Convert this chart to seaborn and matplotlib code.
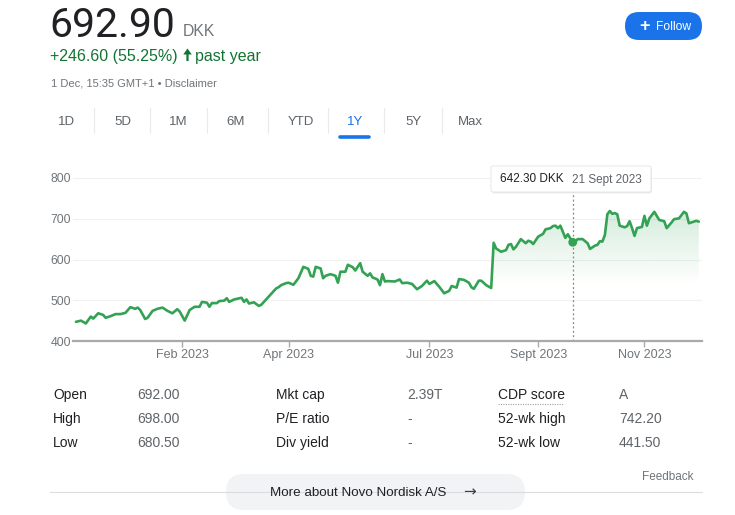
import numpy as np
import pandas as pd
import seaborn as sns
import matplotlib.pyplot as plt
from matplotlib.patches import FancyBboxPatch, FancyArrow
from matplotlib.colors import to_rgb

# closing prices (DKK), trading days
dates = [
    '2022-12-01', '2022-12-05', '2022-12-07', '2022-12-09', '2022-12-12', '2022-12-14',
    '2022-12-16', '2022-12-19', '2022-12-21', '2022-12-23', '2022-12-28', '2022-12-30',
    '2023-01-03', '2023-01-05', '2023-01-06', '2023-01-09', '2023-01-11', '2023-01-12',
    '2023-01-16', '2023-01-18', '2023-01-20', '2023-01-24', '2023-01-26', '2023-01-30',
    '2023-01-31', '2023-02-02', '2023-02-06', '2023-02-08', '2023-02-10', '2023-02-13',
    '2023-02-15', '2023-02-16', '2023-02-17', '2023-02-21', '2023-02-22', '2023-02-24',
    '2023-02-27', '2023-02-28', '2023-03-02', '2023-03-07', '2023-03-08', '2023-03-09',
    '2023-03-10', '2023-03-14', '2023-03-16', '2023-03-17', '2023-03-22', '2023-03-27',
    '2023-03-28', '2023-03-29', '2023-03-31', '2023-04-03', '2023-04-05', '2023-04-12',
    '2023-04-14', '2023-04-18', '2023-04-19', '2023-04-20', '2023-04-21', '2023-04-25',
    '2023-04-26', '2023-04-27', '2023-05-01', '2023-05-03', '2023-05-04', '2023-05-08',
    '2023-05-10', '2023-05-11', '2023-05-15', '2023-05-16', '2023-05-22', '2023-05-23',
    '2023-05-25', '2023-05-26', '2023-05-30', '2023-06-01', '2023-06-02', '2023-06-06',
    '2023-06-07', '2023-06-08', '2023-06-13', '2023-06-15', '2023-06-16', '2023-06-20',
    '2023-06-22', '2023-06-26', '2023-06-28', '2023-06-30', '2023-07-03', '2023-07-05',
    '2023-07-07', '2023-07-11', '2023-07-13', '2023-07-14', '2023-07-18', '2023-07-19',
    '2023-07-21', '2023-07-25', '2023-07-26', '2023-07-27', '2023-07-31', '2023-08-01',
    '2023-08-03', '2023-08-07', '2023-08-08', '2023-08-09', '2023-08-11', '2023-08-15',
    '2023-08-16', '2023-08-17', '2023-08-18', '2023-08-21', '2023-08-23', '2023-08-25',
    '2023-08-28', '2023-08-29', '2023-08-30', '2023-09-01', '2023-09-05', '2023-09-06',
    '2023-09-08', '2023-09-11', '2023-09-12', '2023-09-13', '2023-09-14', '2023-09-18',
    '2023-09-19', '2023-09-21', '2023-09-22', '2023-09-25', '2023-09-27', '2023-09-29',
    '2023-10-02', '2023-10-04', '2023-10-05', '2023-10-06', '2023-10-09', '2023-10-10',
    '2023-10-11', '2023-10-12', '2023-10-13', '2023-10-16', '2023-10-17', '2023-10-18',
    '2023-10-20', '2023-10-23', '2023-10-24', '2023-10-25', '2023-10-26', '2023-10-27',
    '2023-10-31', '2023-11-01', '2023-11-02', '2023-11-03', '2023-11-07', '2023-11-09',
    '2023-11-13', '2023-11-14', '2023-11-16', '2023-11-17', '2023-11-21', '2023-11-23',
    '2023-11-24', '2023-11-27', '2023-11-29', '2023-11-30', '2023-12-01',
]
close = [
    447, 450, 443, 460, 455, 468,
    464, 457, 461, 466, 466, 469,
    483, 479, 482, 476, 454, 457,
    474, 479, 482, 474, 468, 478,
    472, 450, 476, 484, 484, 496,
    494, 484, 493, 493, 498, 499,
    505, 496, 502, 506, 496, 502,
    492, 495, 486, 489, 509, 529,
    532, 537, 542, 543, 538, 554,
    582, 577, 560, 558, 582, 578,
    554, 560, 564, 560, 543, 570,
    570, 587, 581, 573, 591, 570,
    560, 566, 556, 551, 537, 564,
    546, 547, 546, 551, 542, 543,
    540, 527, 535, 548, 540, 547,
    533, 517, 523, 535, 531, 552,
    550, 543, 532, 528, 548, 548,
    537, 530, 641, 627, 619, 623,
    636, 638, 625, 631, 650, 640,
    646, 644, 638, 656, 663, 674,
    677, 682, 683, 677, 683, 653,
    662, 642.30, 644, 650, 650, 640,
    626, 634, 636, 645, 644, 660,
    711, 719, 712, 714, 711, 683,
    679, 682, 694, 677, 658, 677,
    680, 707, 683, 701, 717, 697,
    694, 677, 691, 699, 701, 717,
    713, 689, 693, 695, 692.90,
]

# exchange closed on these weekdays
holidays = ['2022-12-26', '2023-04-06', '2023-04-07', '2023-04-10', '2023-05-05',
            '2023-05-18', '2023-05-19', '2023-05-29', '2023-06-05']

tick_months = ['2023-02', '2023-04', '2023-07', '2023-09', '2023-11']
tick_labels = ['Feb 2023', 'Apr 2023', 'Jul 2023', 'Sept 2023', 'Nov 2023']
y_ticks = [400, 500, 600, 700, 800]

hover_date = '2023-09-21'
hover_close = 642.30

tabs = ['1D', '5D', '1M', '6M', 'YTD', '1Y', '5Y', 'Max']
active_tab = '1Y'

stat_labels = [['Open', 'High', 'Low'],
               ['Mkt cap', 'P/E ratio', 'Div yield'],
               ['CDP score', '52-wk high', '52-wk low']]
stat_values = [['692.00', '698.00', '680.50'],
               ['2.39T', '-', '-'],
               ['A', '742.20', '441.50']]

GREEN = '#34a254'
DARK = '#202124'
GREY = '#70757a'
BLUE = '#1a73e8'

sns.set_theme(style='white')
plt.rcParams['font.family'] = ['Liberation Sans', 'DejaVu Sans']

# trading calendar -> x position is the session number
cal = pd.bdate_range('2022-12-01', '2023-12-01')
cal = cal[~cal.isin(pd.to_datetime(holidays))]
df = pd.DataFrame({'date': pd.to_datetime(dates), 'close': close})
df['session'] = cal.get_indexer(df['date'])
months = cal.strftime('%Y-%m')
tick_pos = [int(np.argmax(months == m)) for m in tick_months]

fig = plt.figure(figsize=(7.35, 5.15), dpi=100)
W, H = 735, 515
ax = fig.add_axes([73 / W, 1 - 341 / H, 629 / W, 163 / H])

sns.lineplot(data=df, x='session', y='close', ax=ax, color=GREEN, linewidth=1.9, zorder=3)

# soft gradient under the line
grad = np.linspace(400, 800, 256)[:, None]
rgba = np.zeros((256, 1, 4))
rgba[..., :3] = to_rgb(GREEN)
rgba[..., 3] = np.clip((grad - 540) / 190, 0, 1) * 0.22
poly = ax.fill_between(df['session'], df['close'], 400, color='none', lw=0)
im = ax.imshow(rgba, extent=[df['session'].min(), df['session'].max(), 400, 800],
               origin='lower', aspect='auto', zorder=1, interpolation='bilinear')
im.set_clip_path(poly.get_paths()[0], transform=ax.transData)

ax.set_xlim(-1.2, 253.3)
ax.set_ylim(400, 800)
ax.set_yticks(y_ticks)
ax.yaxis.grid(True, color='#f1f1f1', lw=0.8)
ax.xaxis.grid(False)
ax.set_xticks(tick_pos, tick_labels)
ax.set_xlabel('')
ax.set_ylabel('')
for side in ['left', 'right', 'top']:
    ax.spines[side].set_visible(False)
ax.spines['bottom'].set_color('#a9a9a9')
ax.spines['bottom'].set_linewidth(1.6)
ax.tick_params(axis='y', length=0, pad=1.5, labelsize=8.8, labelcolor=GREY)
ax.tick_params(axis='x', bottom=True, length=4, width=1, color='#a9a9a9', pad=2,
               labelsize=9, labelcolor=GREY)

# hover marker
hx = cal.get_loc(pd.Timestamp(hover_date))
ax.vlines(hx, 400, 766, colors='#80868b', linestyles=(0, (1.5, 2)), lw=0.9, clip_on=False, zorder=2)
ax.scatter([hx], [hover_close], s=40, color=GREEN, zorder=5, edgecolor='none')

# page elements drawn in pixel units
ui = fig.add_axes([0, 0, 1, 1], zorder=3)
ui.set_xlim(0, W)
ui.set_ylim(H, 0)
ui.axis('off')
ui.patch.set_alpha(0)

ui.text(49, 37, '692.90', fontsize=29.5, family='Roboto', color=DARK, va='baseline')
ui.text(183, 36, 'DKK', fontsize=11.3, color=GREY, va='baseline')
ui.text(50, 61, '+246.60 (55.25%)', fontsize=11.5, color='#137333', va='baseline')
ui.add_patch(FancyArrow(187.5, 61, 0, -12.5, width=2.2, head_width=8.5, head_length=6,
                        length_includes_head=True, color='#137333', lw=0))
ui.text(195, 61, 'past year', fontsize=11.5, color='#137333', va='baseline')
ui.text(51, 86, '1 Dec, 15:35 GMT+1 \u2022 Disclaimer', fontsize=8, color=GREY, va='baseline')

ui.add_patch(FancyBboxPatch((625, 12), 77, 28, boxstyle='round,pad=0,rounding_size=14',
                            fc=BLUE, ec='none'))
ui.text(644.5, 26.5, '+', fontsize=13, color='white', ha='center', va='center', weight='bold')
ui.text(656, 26.5, 'Follow', fontsize=8.7, color='white', va='center')

tab_x = [66.5, 122.5, 178.5, 235.5, 300.5, 355, 413.5, 470.5]
for i, t in enumerate(tabs):
    ui.text(tab_x[i], 122, t, fontsize=9.5, ha='center', va='center',
            color=BLUE if t == active_tab else '#5f6368')
    if i < len(tabs) - 1:
        sx = (tab_x[i] + tab_x[i + 1]) / 2
        ui.plot([sx, sx], [108, 133], color='#e8eaed', lw=0.8)
ui.plot([340, 369], [136.5, 136.5], color=BLUE, lw=2.6, solid_capstyle='round')

# tooltip
ui.add_patch(FancyBboxPatch((492, 167.5), 160, 26, boxstyle='round,pad=0,rounding_size=2',
                            fc='black', alpha=0.07, ec='none'))
ui.add_patch(FancyBboxPatch((491, 166), 160, 26, boxstyle='round,pad=0,rounding_size=2',
                            fc='white', ec='#e3e3e3', lw=0.6))
ui.text(500, 179.5, f'{hover_close:.2f} DKK', fontsize=8.5, color=DARK, va='center')
ui.text(572, 179.5, '21 Sept 2023', fontsize=8.5, color='#5f6368', va='center')

# key stats table
col_x = [(53, 137), (276, 407), (498, 619)]
row_y = [395, 419, 443]
for c, (lx, vx) in enumerate(col_x):
    for r, y in enumerate(row_y):
        ui.text(lx, y, stat_labels[c][r], fontsize=10, color=DARK, va='center')
        ui.text(vx, y, stat_values[c][r], fontsize=10, color='#5f6368', va='center')
ui.plot([498, 563], [403.5, 403.5], color='#9aa0a6', lw=0.8, linestyle=(0, (1, 1.2)))

ui.text(694, 477, 'Feedback', fontsize=8.5, color=GREY, ha='right', va='center')
ui.plot([50, 702], [492, 492], color='#dadce0', lw=0.8)
ui.add_patch(FancyBboxPatch((226, 474), 299, 36, boxstyle='round,pad=0,rounding_size=18',
                            fc='#f1f3f4', ec='none'))
ui.text(270, 492.5, 'More about Novo Nordisk A/S', fontsize=9.6, color=DARK, va='center')
ui.text(463, 492, '\u2192', fontsize=11, color='#3c4043', va='center', family='DejaVu Sans')

fig.savefig('out.png', dpi=100, facecolor='white')
